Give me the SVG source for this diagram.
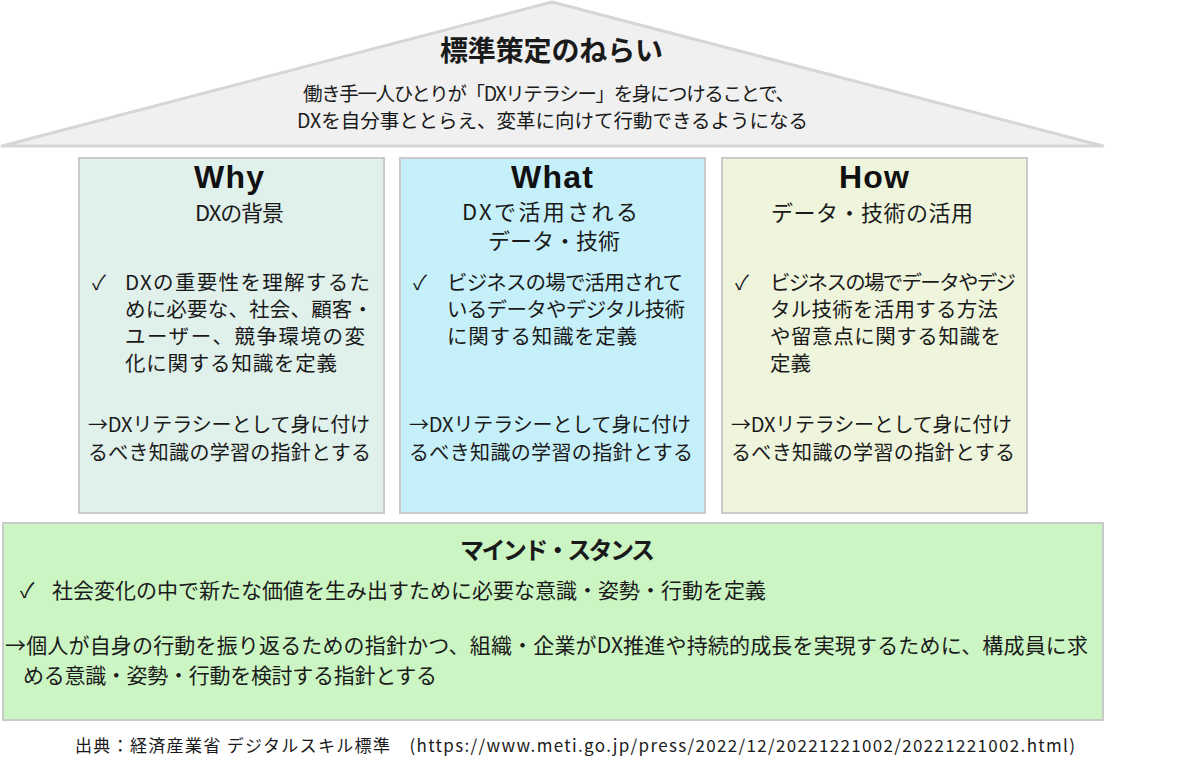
<svg xmlns="http://www.w3.org/2000/svg" width="1200" height="770" viewBox="0 0 1200 770">
<style>
text{font-family:"Noto Sans CJK JP","Noto Sans",sans-serif;fill:#1a1a1a}
.box{stroke:#cacaca;stroke-width:2}
.hd{font-family:"Liberation Sans","Noto Sans",sans-serif;font-weight:bold;font-size:32px;text-anchor:middle;fill:#111}
.sub{font-size:22px}
.b{font-size:20.5px}
.a{font-size:20px}
.m{font-size:21px}
</style>
<rect width="1200" height="770" fill="#ffffff"/>
<g id="roof">
<polygon points="552,2 2,146 1103,146" fill="#f0f0f0" stroke="#d6d6d6" stroke-width="3" stroke-linejoin="round"/>
<text x="440" y="61" font-size="28" font-weight="bold" textLength="223">標準策定のねらい</text>
<text x="303" y="101" font-size="19.5" textLength="492">働き手一人ひとりが「DXリテラシー」を身につけることで、</text>
<text x="297" y="128" font-size="19.5" textLength="511">DXを自分事ととらえ、変革に向けて行動できるようになる</text>
</g>
<g id="why">
<rect class="box" x="79" y="158" width="305" height="355" fill="#e0f0ea"/>
<text x="229" y="188" class="hd" textLength="70">Why</text>
<text x="195" y="221" class="sub" textLength="89">DXの背景</text>
<text x="92" y="290" class="b">✓</text>
<text x="125" y="290" class="b" textLength="245">DXの重要性を理解するた</text>
<text x="125" y="317" class="b" textLength="248">めに必要な、社会、顧客・</text>
<text x="125" y="344" class="b" textLength="240">ユーザー、競争環境の変</text>
<text x="125" y="371" class="b" textLength="212">化に関する知識を定義</text>
<text x="88" y="432" class="a" textLength="282">→DXリテラシーとして身に付け</text>
<text x="88" y="460" class="a" textLength="283">るべき知識の学習の指針とする</text>
</g>
<g id="what">
<rect class="box" x="400" y="158" width="305" height="355" fill="#c6f0f9"/>
<text x="552" y="188" class="hd" textLength="82">What</text>
<text x="462" y="220" class="sub" textLength="176">DXで活用される</text>
<text x="488" y="249" class="sub" textLength="132">データ・技術</text>
<text x="413" y="290" class="b">✓</text>
<text x="447" y="290" class="b" textLength="236">ビジネスの場で活用されて</text>
<text x="447" y="317" class="b" textLength="238">いるデータやデジタル技術</text>
<text x="447" y="344" class="b" textLength="190">に関する知識を定義</text>
<text x="409" y="432" class="a" textLength="282">→DXリテラシーとして身に付け</text>
<text x="409" y="460" class="a" textLength="284">るべき知識の学習の指針とする</text>
</g>
<g id="how">
<rect class="box" x="722" y="158" width="305" height="355" fill="#eef5dc"/>
<text x="874" y="188" class="hd" textLength="70">How</text>
<text x="771" y="221" class="sub" textLength="202">データ・技術の活用</text>
<text x="735" y="290" class="b">✓</text>
<text x="770" y="290" class="b" textLength="246">ビジネスの場でデータやデジ</text>
<text x="770" y="317" class="b" textLength="228">タル技術を活用する方法</text>
<text x="770" y="344" class="b" textLength="231">や留意点に関する知識を</text>
<text x="770" y="371" class="b">定義</text>
<text x="731" y="432" class="a" textLength="281">→DXリテラシーとして身に付け</text>
<text x="731" y="460" class="a" textLength="284">るべき知識の学習の指針とする</text>
</g>
<g id="mind">
<rect class="box" x="3" y="523" width="1100" height="197" fill="#cbf5c3"/>
<text x="460" y="559" font-size="24" font-weight="bold" textLength="195">マインド・スタンス</text>
<text x="20" y="598" class="m">✓</text>
<text x="52" y="598" class="m" textLength="714">社会変化の中で新たな価値を生み出すために必要な意識・姿勢・行動を定義</text>
<text x="5" y="653" class="m" textLength="1083">→個人が自身の行動を振り返るための指針かつ、組織・企業がDX推進や持続的成長を実現するために、構成員に求</text>
<text x="23" y="683" class="m" textLength="414">める意識・姿勢・行動を検討する指針とする</text>
</g>
<g id="connectors"></g>
<text x="75" y="752" font-size="17" textLength="1000">出典：経済産業省 デジタルスキル標準　(https://www.meti.go.jp/press/2022/12/20221221002/20221221002.html)</text>
</svg>
